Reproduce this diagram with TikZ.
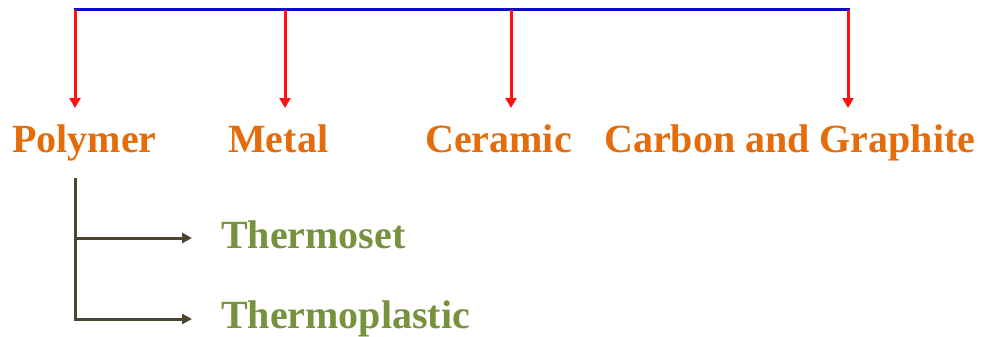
\documentclass[tikz,border=0pt]{standalone}
\usepackage{fontspec}
\setmainfont{Liberation Serif}
\usetikzlibrary{arrows.meta}
\definecolor{catorange}{HTML}{E46C0A}
\definecolor{subgreen}{HTML}{76923C}
\definecolor{darkline}{HTML}{4A4630}
\definecolor{topblue}{HTML}{0A0ACC}
\definecolor{arrred}{HTML}{FF1010}
\tikzset{
  cat/.style={anchor=base west, inner sep=0pt, text=catorange, font=\fontsize{40}{44}\selectfont\bfseries},
  sub/.style={anchor=base west, inner sep=0pt, text=subgreen, font=\fontsize{40}{44}\selectfont\bfseries},
  bluebar/.style={draw=topblue, line width=3pt},
  redarrow/.style={draw=arrred, line width=3pt, -{Triangle[length=10pt,width=11pt]}},
  darkarrow/.style={draw=darkline, line width=3pt, -{Triangle[length=10pt,width=10pt]}},
  darkstem/.style={draw=darkline, line width=3pt}
}
\begin{document}
\begin{tikzpicture}[x=1pt,y=-1pt]
\useasboundingbox (0,0) rectangle (982,337);
% top bar points
\coordinate (t1) at (75,10);
\coordinate (t2) at (285,10);
\coordinate (t3) at (511,10);
\coordinate (t4) at (848,10);
% arrow tips
\coordinate (e1) at (75,108);
\coordinate (e2) at (285,108);
\coordinate (e3) at (511,108);
\coordinate (e4) at (848,108);
% labels
\node[cat] (polymer) at (12,152) {Polymer};
\node[cat] (metal) at (228,152) {Metal};
\node[cat] (ceramic) at (425,152) {Ceramic};
\node[cat] (carbon) at (604,152) {Carbon and Graphite};
\node[sub] (thermoset) at (221,248) {Thermoset};
\node[sub] (thermoplastic) at (221,328) {Thermoplastic};
% connectors
\draw[bluebar] ([xshift=-1.5pt]t1) -- ([xshift=1.5pt]t4);
\draw[redarrow] (t1) -- (e1);
\draw[redarrow] (t2) -- (e2);
\draw[redarrow] (t3) -- (e3);
\draw[redarrow] (t4) -- (e4);
\coordinate (s0) at (75,178);
\coordinate (s1) at (75,238);
\coordinate (s2) at (75,319);
\coordinate (a1) at (192,238);
\coordinate (a2) at (192,319);
\draw[darkstem] (s0) -- (s2);
\draw[darkarrow] (s1) -- (a1);
\draw[darkarrow] ([xshift=-1.5pt]s2) -- (a2);
\end{tikzpicture}
\end{document}
